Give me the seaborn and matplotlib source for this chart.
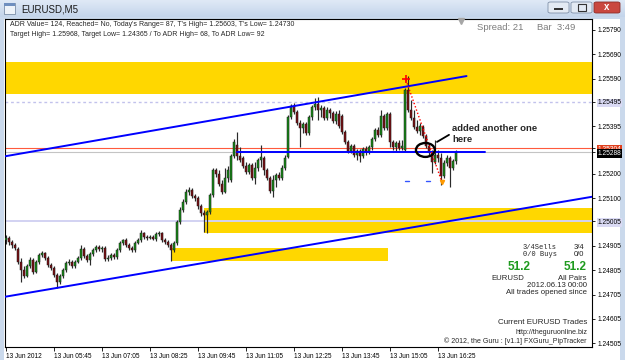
import numpy as np
import pandas as pd
import matplotlib
matplotlib.use("Agg")
import matplotlib.pyplot as plt
import seaborn as sns
from matplotlib.patches import Rectangle, Ellipse, FancyBboxPatch
from matplotlib.colors import LinearSegmentedColormap

# ---------------- data ----------------
time_labels = ["13 Jun 2012", "13 Jun 05:45", "13 Jun 07:05", "13 Jun 08:25", "13 Jun 09:45",
               "13 Jun 11:05", "13 Jun 12:25", "13 Jun 13:45", "13 Jun 15:05", "13 Jun 16:25"]
time_label_bars = [0, 16, 32, 48, 64, 80, 96, 112, 128, 144]

price_ticks = [1.25790, 1.25690, 1.25590, 1.25495, 1.25395, 1.25304, 1.25288, 1.25200,
               1.25100, 1.25005, 1.24905, 1.24805, 1.24705, 1.24605, 1.24505]

opens = [1.24929, 1.24937, 1.24921, 1.24909, 1.24892, 1.24839, 1.24806, 1.24781, 1.24822, 1.24847,
         1.24798, 1.24839, 1.24868, 1.24876, 1.24855, 1.24827, 1.24814, 1.24786, 1.24757, 1.24781,
         1.24806, 1.24835, 1.24839, 1.24822, 1.24839, 1.24855, 1.24892, 1.24863, 1.24847, 1.24872,
         1.24888, 1.24900, 1.24892, 1.24896, 1.24851, 1.24855, 1.24868, 1.24859, 1.24888, 1.24917,
         1.24929, 1.24909, 1.24896, 1.24888, 1.24917, 1.24929, 1.24958, 1.24941, 1.24937, 1.24941,
         1.24933, 1.24954, 1.24958, 1.24929, 1.24921, 1.24909, 1.24888, 1.24917, 1.25003, 1.25052,
         1.25085, 1.25126, 1.25134, 1.25109, 1.25101, 1.25068, 1.25040, 1.25032, 1.25044, 1.25114,
         1.25216, 1.25200, 1.25159, 1.25126, 1.25183, 1.25175, 1.25273, 1.25319, 1.25273, 1.25265,
         1.25232, 1.25208, 1.25237, 1.25183, 1.25224, 1.25257, 1.25265, 1.25216, 1.25183, 1.25130,
         1.25175, 1.25196, 1.25183, 1.25224, 1.25269, 1.25433, 1.25478, 1.25454, 1.25409, 1.25388,
         1.25405, 1.25368, 1.25433, 1.25474, 1.25487, 1.25462, 1.25470, 1.25429, 1.25462, 1.25450,
         1.25417, 1.25446, 1.25437, 1.25372, 1.25331, 1.25294, 1.25314, 1.25278, 1.25294, 1.25273,
         1.25302, 1.25290, 1.25310, 1.25343, 1.25380, 1.25360, 1.25437, 1.25388, 1.25446, 1.25331,
         1.25310, 1.25327, 1.25306, 1.25298, 1.25544, 1.25462, 1.25429, 1.25392, 1.25376, 1.25392,
         1.25355, 1.25314, 1.25290, 1.25249, 1.25278, 1.25265, 1.25191, 1.25245, 1.25265, 1.25224,
         1.25253]
highs = [1.24950, 1.24945, 1.24929, 1.24917, 1.24900, 1.24855, 1.24822, 1.24831, 1.24859, 1.24855,
         1.24847, 1.24876, 1.24884, 1.24880, 1.24863, 1.24835, 1.24822, 1.24794, 1.24790, 1.24814,
         1.24843, 1.24851, 1.24847, 1.24847, 1.24863, 1.24909, 1.24900, 1.24872, 1.24880, 1.24896,
         1.24909, 1.24909, 1.24904, 1.24904, 1.24868, 1.24876, 1.24876, 1.24896, 1.24925, 1.24933,
         1.24937, 1.24917, 1.24904, 1.24925, 1.24937, 1.24970, 1.24962, 1.24950, 1.24950, 1.24950,
         1.24962, 1.24966, 1.24962, 1.24937, 1.24929, 1.24917, 1.24925, 1.25011, 1.25064, 1.25097,
         1.25138, 1.25146, 1.25142, 1.25118, 1.25109, 1.25077, 1.25052, 1.25052, 1.25122, 1.25224,
         1.25224, 1.25216, 1.25175, 1.25224, 1.25232, 1.25282, 1.25343, 1.25372, 1.25310, 1.25273,
         1.25249, 1.25245, 1.25245, 1.25249, 1.25265, 1.25319, 1.25273, 1.25224, 1.25191, 1.25196,
         1.25204, 1.25208, 1.25237, 1.25278, 1.25442, 1.25487, 1.25491, 1.25462, 1.25421, 1.25413,
         1.25413, 1.25442, 1.25483, 1.25511, 1.25515, 1.25483, 1.25478, 1.25474, 1.25470, 1.25458,
         1.25458, 1.25462, 1.25446, 1.25380, 1.25339, 1.25323, 1.25323, 1.25302, 1.25302, 1.25310,
         1.25314, 1.25319, 1.25351, 1.25388, 1.25392, 1.25462, 1.25446, 1.25454, 1.25454, 1.25339,
         1.25335, 1.25339, 1.25339, 1.25552, 1.25603, 1.25503, 1.25462, 1.25421, 1.25409, 1.25401,
         1.25364, 1.25327, 1.25298, 1.25339, 1.25298, 1.25286, 1.25257, 1.25278, 1.25273, 1.25261,
         1.25298]
lows = [1.24913, 1.24909, 1.24896, 1.24888, 1.24831, 1.24757, 1.24773, 1.24777, 1.24814, 1.24790,
        1.24794, 1.24831, 1.24859, 1.24847, 1.24818, 1.24806, 1.24777, 1.24730, 1.24749, 1.24773,
        1.24798, 1.24827, 1.24814, 1.24814, 1.24835, 1.24847, 1.24855, 1.24839, 1.24827, 1.24863,
        1.24880, 1.24884, 1.24880, 1.24843, 1.24843, 1.24847, 1.24851, 1.24851, 1.24880, 1.24909,
        1.24900, 1.24888, 1.24880, 1.24880, 1.24913, 1.24921, 1.24933, 1.24929, 1.24933, 1.24929,
        1.24925, 1.24945, 1.24921, 1.24913, 1.24900, 1.24843, 1.24880, 1.24909, 1.24995, 1.25044,
        1.25077, 1.25114, 1.25101, 1.25089, 1.25056, 1.25027, 1.24962, 1.24958, 1.25036, 1.25105,
        1.25187, 1.25150, 1.25118, 1.25122, 1.25167, 1.25167, 1.25265, 1.25257, 1.25249, 1.25224,
        1.25200, 1.25200, 1.25175, 1.25159, 1.25212, 1.25228, 1.25196, 1.25175, 1.25122, 1.25105,
        1.25146, 1.25175, 1.25175, 1.25216, 1.25265, 1.25425, 1.25446, 1.25401, 1.25310, 1.25368,
        1.25360, 1.25360, 1.25421, 1.25462, 1.25421, 1.25433, 1.25421, 1.25421, 1.25429, 1.25409,
        1.25405, 1.25388, 1.25364, 1.25323, 1.25286, 1.25286, 1.25269, 1.25257, 1.25249, 1.25265,
        1.25278, 1.25282, 1.25298, 1.25335, 1.25351, 1.25351, 1.25380, 1.25380, 1.25310, 1.25298,
        1.25294, 1.25298, 1.25298, 1.25294, 1.25454, 1.25421, 1.25384, 1.25368, 1.25360, 1.25347,
        1.25306, 1.25278, 1.25204, 1.25241, 1.25249, 1.25155, 1.25183, 1.25232, 1.25146, 1.25216,
        1.25241]
closes = [1.24937, 1.24921, 1.24909, 1.24896, 1.24839, 1.24806, 1.24781, 1.24822, 1.24847, 1.24798,
          1.24839, 1.24868, 1.24876, 1.24855, 1.24827, 1.24814, 1.24786, 1.24757, 1.24781, 1.24806,
          1.24835, 1.24839, 1.24822, 1.24839, 1.24855, 1.24892, 1.24863, 1.24847, 1.24872, 1.24888,
          1.24900, 1.24892, 1.24896, 1.24851, 1.24855, 1.24868, 1.24859, 1.24888, 1.24917, 1.24929,
          1.24909, 1.24896, 1.24888, 1.24917, 1.24929, 1.24958, 1.24941, 1.24937, 1.24941, 1.24933,
          1.24954, 1.24958, 1.24929, 1.24921, 1.24909, 1.24888, 1.24917, 1.25003, 1.25052, 1.25085,
          1.25126, 1.25134, 1.25109, 1.25101, 1.25068, 1.25040, 1.25032, 1.25044, 1.25114, 1.25216,
          1.25200, 1.25159, 1.25126, 1.25183, 1.25216, 1.25273, 1.25331, 1.25273, 1.25257, 1.25232,
          1.25208, 1.25237, 1.25183, 1.25224, 1.25257, 1.25269, 1.25216, 1.25183, 1.25130, 1.25175,
          1.25196, 1.25183, 1.25224, 1.25265, 1.25433, 1.25478, 1.25454, 1.25409, 1.25388, 1.25405,
          1.25368, 1.25433, 1.25474, 1.25487, 1.25462, 1.25470, 1.25429, 1.25462, 1.25450, 1.25417,
          1.25446, 1.25396, 1.25372, 1.25331, 1.25294, 1.25314, 1.25278, 1.25294, 1.25273, 1.25302,
          1.25290, 1.25310, 1.25343, 1.25380, 1.25360, 1.25437, 1.25388, 1.25446, 1.25331, 1.25310,
          1.25327, 1.25306, 1.25314, 1.25544, 1.25462, 1.25429, 1.25392, 1.25376, 1.25396, 1.25355,
          1.25314, 1.25290, 1.25249, 1.25278, 1.25265, 1.25191, 1.25245, 1.25265, 1.25224, 1.25253,
          1.25288]

# zones and drawn objects (price levels / anchors)
upper_zone = (1.25528, 1.25659)
middle_zone = (66, 1.24958, 1.25060)
lower_zone = (55.3, 127.3, 1.24843, 1.24896)
upper_trend_bars = [-0.33, 153.5]
upper_trend_prices = [1.25272, 1.25601]
lower_trend_bars = [-0.33, 195.33]
lower_trend_prices = [1.24696, 1.25106]
hline_bars = [77, 159.7]
hline_price = 1.25290
ask_price = 1.25304
bid_price = 1.25288
level_lines = [1.25495, 1.25005]
drop_bars = [133.3, 145.3]
drop_prices = [1.25585, 1.25167]
dash_bars = [133.7, 140.7]
dash_price = 1.25171

# ---------------- figure ----------------
W, H = 625, 360
sns.set_style("white")
plt.rcParams['font.family'] = ['Liberation Sans', 'DejaVu Sans']

fig = plt.figure(figsize=(W / 100, H / 100), dpi=100)
fig.patch.set_facecolor('#cad9ec')

def fx(x):
    return x / W

def fy(y):
    return 1 - y / H

def T(x, y, s, **kw):
    kw.setdefault('va', 'center')
    kw.setdefault('zorder', 10)
    fig.text(fx(x), fy(y), s, **kw)

# white panel (chart + price/time axis area), behind everything
bg = fig.add_axes([fx(4), 0, fx(620) - fx(4), fy(19)], zorder=-5)
bg.set_facecolor('white')
bg.set_axis_off()
bg.add_patch(Rectangle((0, 0), 1, 1, transform=bg.transAxes, facecolor='white', edgecolor='none'))

# title bar gradient
tb = fig.add_axes([0, fy(17), 1, 17 / H], zorder=-4)
grad = np.linspace(0, 1, 20).reshape(-1, 1)
cm = LinearSegmentedColormap.from_list('tb', ['#dfe9f6', '#c4d5eb'])
tb.imshow(grad, aspect='auto', cmap=cm, extent=[0, 1, 0, 1], origin='upper')
tb.set_axis_off()

# icon
fig.patches.append(Rectangle((fx(4), fy(14)), fx(11), 11 / H, transform=fig.transFigure,
                             facecolor='#eef3f9', edgecolor='#7b8ea8', lw=0.6, zorder=2))
fig.patches.append(Rectangle((fx(4), fy(6)), fx(11), 3 / H, transform=fig.transFigure,
                             facecolor='#6f8fbf', edgecolor='none', zorder=3))
T(21, 9, "EURUSD,M5", size=7, color='#1b1b1b')

# window buttons
for x0, x1, fc, ec in [(548, 569, '#e3eaf3', '#7f90a8'), (571, 592, '#e3eaf3', '#7f90a8'),
                       (594, 620, '#c9473f', '#8c2d28')]:
    fig.patches.append(FancyBboxPatch((fx(x0), fy(13)), fx(x1 - x0), 11 / H,
                                      boxstyle='round,pad=0,rounding_size=0.004',
                                      transform=fig.transFigure, facecolor=fc, edgecolor=ec,
                                      lw=0.6, zorder=2))
fig.patches.append(Rectangle((fx(554), fy(10)), fx(9), 2 / H, transform=fig.transFigure,
                             facecolor='#333333', edgecolor='none', zorder=3))
fig.patches.append(Rectangle((fx(578), fy(10.5)), fx(8), 6 / H, transform=fig.transFigure,
                             facecolor='none', edgecolor='#333333', lw=0.8, zorder=3))
T(607, 7.5, "x", size=7, color='white', weight='bold', ha='center')

# main chart axes
ax = fig.add_axes([fx(5), fy(347), fx(592) - fx(5), (347 - 19) / H], zorder=1)
ax.set_facecolor('white')
ax.set_xlim(-0.33, 195.33)
ax.set_ylim(1.24490, 1.25835)

# zones
ax.axhspan(*upper_zone, color='#ffd700', lw=0, zorder=1)
ax.fill_between([middle_zone[0], 195.33], middle_zone[1], middle_zone[2], color='#ffd700', lw=0, zorder=1)
ax.fill_between([lower_zone[0], lower_zone[1]], lower_zone[2], lower_zone[3], color='#ffd700', lw=0, zorder=1)

# level lines
ax.axhline(level_lines[0], color='#c2c2ec', lw=1.0, ls=(0, (2, 2)), zorder=2)
ax.axhline(level_lines[1], color='#d2d2f2', lw=1.4, zorder=2)
ax.axhline(ask_price, color='#ff5a3c', lw=0.8, zorder=2)
ax.axhline(bid_price, color='#c4c4c4', lw=0.8, zorder=2)

# candles
df = pd.DataFrame(dict(open=opens, high=highs, low=lows, close=closes))
df['bar'] = np.arange(len(df))
up = df['close'] >= df['open']
ax.vlines(df['bar'], df['low'], df['high'], color='#2a2a2a', lw=0.85, zorder=3)
body = (df['close'] - df['open']).abs().clip(lower=0.00003)
ax.bar(df['bar'], body, bottom=np.minimum(df['open'], df['close']), width=0.8,
       color=np.where(up, '#168a16', '#7a0c10'), edgecolor='#1e1e1e', lw=0.35, zorder=4)

# trend lines (seaborn)
tl = pd.DataFrame({'bar': upper_trend_bars + lower_trend_bars + hline_bars,
                   'price': upper_trend_prices + lower_trend_prices + [hline_price, hline_price],
                   'line': ['up', 'up', 'low', 'low', 'h', 'h']})
sns.lineplot(data=tl, x='bar', y='price', units='line', estimator=None, color='#0000ff',
             lw=1.4, ax=ax, legend=False, zorder=5)

# red dotted drop line
ax.plot(drop_bars, drop_prices, color='#ff0000', ls=(0, (1, 1.5)), lw=1.0, zorder=6)
ax.plot([drop_bars[0]], [1.25589], marker='+', color='#ff0000', ms=6, mew=1.2, zorder=7)
ax.plot([drop_bars[1]], [drop_prices[1]], marker='v', color='#ff9a00', ms=3, zorder=7)
for b in dash_bars:
    ax.plot([b - 0.7, b + 0.7], [dash_price, dash_price], color='#3355ff', lw=1.0, zorder=6)

# circle + pointer
ax.add_patch(Ellipse((139.8, 1.25298), 6.3, 0.00057, fill=False, edgecolor='black', lw=1.7, zorder=8))
ax.plot([143.67, 147.67], [1.25331, 1.25360], color='black', lw=1.3, zorder=8)

# axes styling
for s in ax.spines.values():
    s.set_color('black')
    s.set_linewidth(0.8)
    s.set_visible(True)
ax.set_xticks(time_label_bars)
ax.set_xticklabels(time_labels)
for lab in ax.get_xticklabels():
    lab.set_ha('left')
ax.tick_params(axis='x', direction='out', length=3, width=0.6, labelsize=4.7, pad=1.5,
               bottom=True, colors='black')
ax.yaxis.tick_right()
ax.set_yticks(price_ticks)
ax.set_yticklabels([f"{p:.5f}" for p in price_ticks])
ax.tick_params(axis='y', direction='out', length=2.5, width=0.6, labelsize=4.8, pad=1.5,
               right=True, left=False, colors='black')
for lab, p in zip(ax.get_yticklabels(), price_ticks):
    if p in level_lines:
        lab.set_bbox(dict(facecolor='#dadaf4', edgecolor='none', pad=0.6))
    elif p == ask_price:
        lab.set_bbox(dict(facecolor='#e0401e', edgecolor='none', pad=0.6))
        lab.set_color('white')
    elif p == bid_price:
        lab.set_bbox(dict(facecolor='black', edgecolor='none', pad=0.6))
        lab.set_color('white')
ax.set_xlabel('')
ax.set_ylabel('')

# chart shift marker
fig.lines.append(plt.Line2D([fx(461)], [fy(21)], marker='v', color='#a6a6a6', ms=4,
                            transform=fig.transFigure, zorder=10))

# texts
T(10, 24, "ADR Value= 124, Reached= No, Today's Range= 87, T's High= 1.25603, T's Low= 1.24730", size=5)
T(10, 34, "Target High= 1.25968, Target Low= 1.24365 / To ADR High= 68, To ADR Low= 92", size=5)
T(477, 28, "Spread: 21", size=6.8, color='#7d7d7d')
T(537, 28, "Bar  3:49", size=6.8, color='#7d7d7d')

T(452, 128, "added another one", size=6.8, weight='bold')
T(452, 140, "here", size=6.8, weight='bold')

mono = ['Liberation Mono', 'DejaVu Sans Mono']
T(523, 247.5, "3/4Sells", size=5, family=mono)
T(584, 247.5, "3/4", size=5.5, ha='right')
T(523, 254.5, "0/0 Buys", size=5, family=mono)
T(584, 254.5, "0/0", size=5.5, ha='right')
T(531, 267, "51.2", size=8.5, weight='bold', color='#1e9a1e', ha='right')
T(587, 267, "51.2", size=8.5, weight='bold', color='#1e9a1e', ha='right')
T(524, 278, "EURUSD", size=5.6, ha='right')
T(587, 278, "All Pairs", size=5.6, ha='right')
T(587, 285.5, "2012.06.13 00:00", size=5.6, ha='right')
T(587, 293, "All trades opened since", size=5.6, ha='right')
T(587, 323, "Current EURUSD Trades", size=5.8, ha='right')
T(587, 332, "http://theguruonline.biz", size=5, ha='right')
T(587, 341, "\u00a9 2012, the Guru : [v1.1] FXGuru_PipTracker", size=5, ha='right')

fig.savefig("out.png", dpi=100, facecolor=fig.get_facecolor())
